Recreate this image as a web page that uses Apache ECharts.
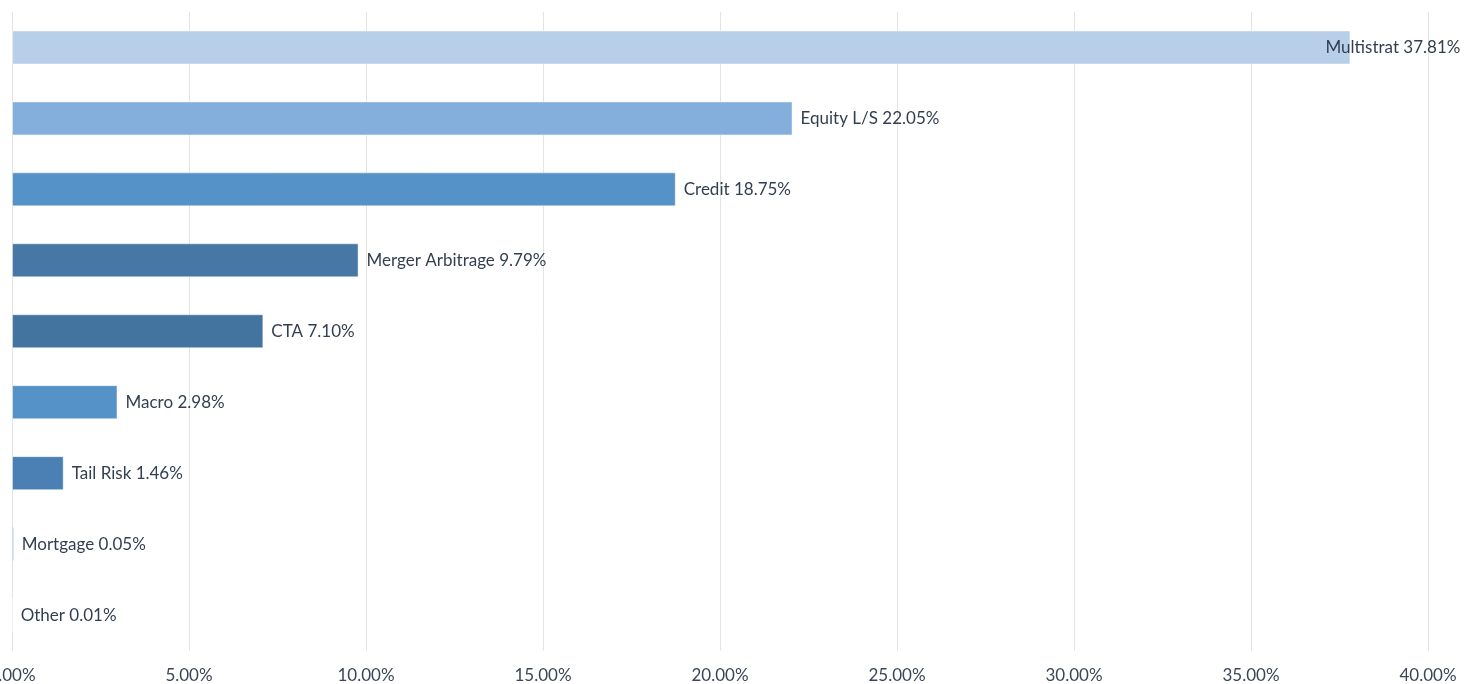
<!DOCTYPE html>
<html>
<head>
<meta charset="utf-8">
<script src="https://cdn.jsdelivr.net/npm/echarts@6/dist/echarts.min.js"></script>
<style>
html,body{margin:0;padding:0;background:#fff;}
#chart{width:1469px;height:684px;}
</style>
</head>
<body>
<div id="chart"></div>
<script>
const categories = ['Multistrat','Equity L/S','Credit','Merger Arbitrage','CTA','Macro','Tail Risk','Mortgage','Other'];
const values = [37.81, 22.05, 18.75, 9.79, 7.10, 2.98, 1.46, 0.05, 0.01];
const barColors = ['#b8cfe9','#84afdc','#5592c8','#4677a5','#43739f','#5592c8','#4a80b4','#4a80b4','#4a80b4'];
const xTicks = [0,5,10,15,20,25,30,35,40];

const chart = echarts.init(document.getElementById('chart'));
const data = values.map((v,i)=>{
  const d = {value:v, itemStyle:{color:barColors[i], borderColor:'rgba(255,255,255,0.45)', borderWidth:1}};
  if (i===0) d.label = {offset:[-33,0]};
  return d;
});
chart.setOption({
  animation:false,
  grid:{left:12,right:41,top:12,bottom:33.5,containLabel:false,outerBoundsMode:'none'},
  xAxis:{
    type:'value', min:xTicks[0], max:xTicks[xTicks.length-1], interval:5,
    axisLine:{show:false}, axisTick:{show:false},
    splitLine:{show:true,lineStyle:{color:'#e3e3e3',width:1}},
    axisLabel:{formatter:v=>v.toFixed(2)+'%', color:'#3b4657', fontFamily:'Lato', fontSize:17, margin:17, hideOverlap:false}
  },
  yAxis:{
    type:'category', data:categories, inverse:true,
    axisLine:{show:false}, axisTick:{show:false}, axisLabel:{show:false}, splitLine:{show:false}
  },
  series:[{
    type:'bar', data:data, barWidth:34,
    label:{show:true, position:'right', distance:8, color:'#333f50', fontFamily:'Lato', fontSize:17,
      formatter:p=>p.name+' '+p.value.toFixed(2)+'%'}
  }]
});
</script>
</body>
</html>
